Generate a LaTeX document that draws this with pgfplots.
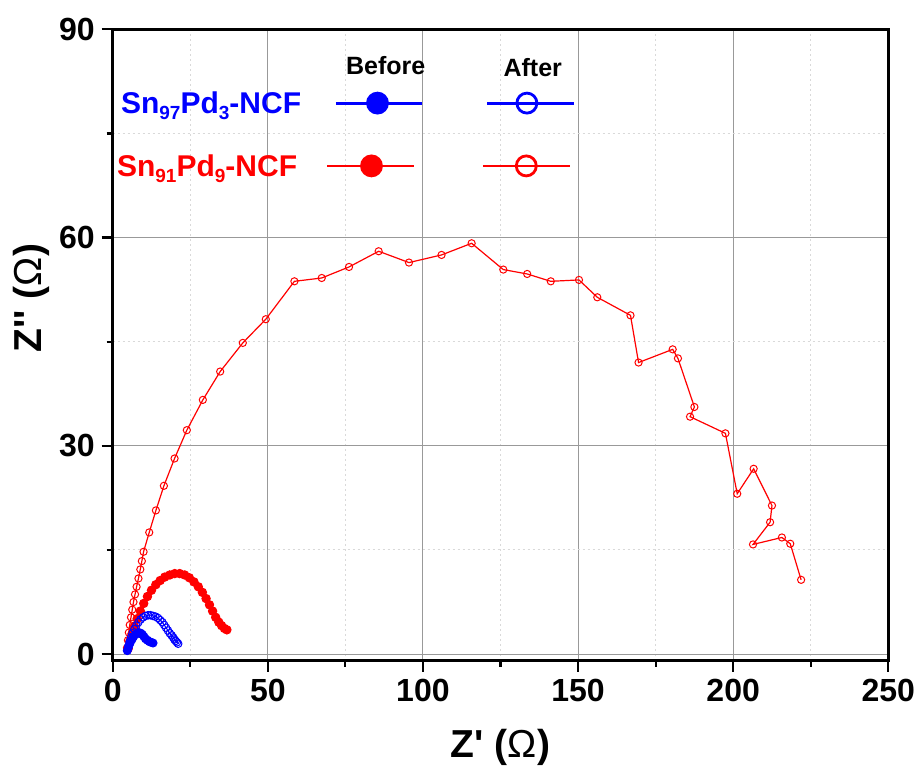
\documentclass[border=0pt]{standalone}
\usepackage{fontspec}
\setmainfont{Liberation Sans}
\usepackage{pgfplots}
\pgfplotsset{compat=1.18}
\newcommand{\sub}[1]{\raisebox{-0.35ex}{\fontsize{9.5}{10}\selectfont #1}}
\begin{document}
\begin{tikzpicture}
\path[use as bounding box] (-56.35pt,-53.15pt) rectangle (404.15pt,330.35pt);
\begin{axis}[
  at={(0pt,0pt)}, anchor=south west,
  scale only axis, width=387.8pt, height=315.7pt,
  xmin=0, xmax=250, ymin=-0.95, ymax=90,
  xtick={0,50,...,250}, ytick={0,30,60,90},
  minor x tick num=1, minor y tick num=1,
  tick align=outside, tick pos=left,
  major tick length=5.5pt, minor tick length=3pt,
  every tick/.style={black, line width=1.1pt},
  axis line style={line width=1.3pt},
  grid=both,
  major grid style={line width=0.5pt, draw=black!40},
  minor grid style={line width=0.5pt, draw=black!15, dash pattern=on 1pt off 1.5pt},
  ticklabel style={font=\fontsize{16}{19}\selectfont\bfseries},
  /pgf/number format/assume math mode=true,
  xlabel={Z\textquotesingle\ ({\fontseries{m}\selectfont Ω})},
  ylabel={Z\textquotesingle\textquotesingle\ ({\fontseries{m}\selectfont Ω})},
  xlabel style={at={(axis description cs:0.5,0)}, anchor=base, yshift=-48.5pt, font=\fontsize{19.5}{23}\selectfont\bfseries},
  ylabel style={at={(axis description cs:-0.1044,0.5744)}, anchor=center, font=\fontsize{19.5}{23}\selectfont\bfseries},
  legend columns=3,
  legend cell align=left,
  legend style={at={(axis description cs:0.00516,0.8334)}, anchor=west, draw=none, fill=none, inner sep=0pt,
    column sep=0pt, row sep=18.2pt,
    nodes={inner sep=0pt, text height=12pt, text depth=1.2pt, font=\fontsize{15}{18}\selectfont\bfseries}},
]
% Sn91Pd9-NCF after
\addplot[forget plot, red, line width=0.6pt, mark=o, mark size=1.8pt, mark options={fill=white, line width=0.5pt}] coordinates {
(4.6,0.9) (4.9,2.0) (5.2,3.1) (5.5,4.2) (5.9,5.3) (6.3,6.4) (6.7,7.5) (7.2,8.6) (7.7,9.7) (8.3,10.9) (8.9,12.2) (9.4,13.4)
(9.95,14.74) (11.78,17.53) (13.93,20.70) (16.5,24.24) (19.94,28.18) (23.9,32.26) (29.06,36.62) (34.64,40.7) (41.94,44.83)
(49.35,48.24) (58.57,53.7) (67.38,54.18) (76.18,55.77) (85.73,58.03) (95.5,56.4) (106.0,57.5) (115.7,59.18) (125.9,55.39)
(133.6,54.76) (141.2,53.7) (150.3,53.9) (156.2,51.4) (166.9,48.8) (169.5,42.0) (180.5,43.9) (182.2,42.6) (187.5,35.6)
(186.1,34.2) (197.5,31.8) (201.3,23.1) (206.6,26.7) (212.5,21.4) (211.9,19.0) (206.4,15.8) (215.7,16.8) (218.4,15.9) (221.9,10.7)
};
% Sn91Pd9-NCF before
\addplot[forget plot, red, line width=0.5pt, mark=*, mark size=2.1pt] coordinates {
(5.0,0.8) (5.5,1.8) (6.2,2.9) (7.0,4.0) (7.9,5.1) (8.9,6.2) (10.0,7.3) (11.2,8.3) (12.5,9.2) (13.9,10.0) (15.3,10.6)
(16.8,11.1) (18.4,11.4) (20.0,11.6) (21.6,11.6) (23.2,11.4) (24.7,11.0) (26.2,10.4) (27.6,9.7) (28.9,8.9) (30.1,8.0)
(31.2,7.1) (32.2,6.2) (33.2,5.3) (34.2,4.6) (35.1,4.1) (36.0,3.7) (36.8,3.5)
};
% Sn97Pd3-NCF after
\addplot[forget plot, blue, line width=0.5pt, mark=o, mark size=1.9pt, mark options={fill=white, line width=0.5pt}] coordinates {
(4.8,0.6) (5.1,1.2) (5.5,1.8) (5.9,2.4) (6.4,3.0) (7.0,3.6) (7.6,4.1) (8.3,4.6) (9.0,5.0) (9.8,5.3) (10.6,5.5) (11.4,5.6)
(12.2,5.6) (13.0,5.5) (13.8,5.4) (14.6,5.2) (15.3,4.9) (16.0,4.6) (16.6,4.2) (17.2,3.8) (17.8,3.4) (18.4,3.0) (19.0,2.7)
(19.5,2.4) (19.9,2.1) (20.3,1.9) (20.7,1.7) (21.1,1.5)
};
% Sn97Pd3-NCF before
\addplot[forget plot, blue, line width=0.5pt, mark=*, mark size=2pt] coordinates {
(4.7,0.5) (5.0,0.9) (5.3,1.3) (5.7,1.7) (6.2,2.1) (6.7,2.5) (7.3,2.8) (7.9,3.0) (8.5,3.1) (9.1,3.0) (9.6,2.8) (10.1,2.5)
(10.6,2.2) (11.2,2.0) (11.8,1.8) (12.4,1.7) (13.0,1.6)
};
% legend
\addlegendimage{legend image code/.code={}}
\addlegendentry{\makebox[86pt][l]{\color{blue}\hspace*{2pt}Sn\sub{97}Pd\sub{3}-NCF}}
\addlegendimage{blue, mark=*, legend image code/.code={
  \path (0pt,0pt) rectangle (0pt,0pt);
  \draw[line width=1.4pt, mark size=5pt, mark repeat=2, mark phase=2] plot coordinates {(23.15pt,0pt) (44.0pt,0pt) (66.5pt,0pt)};}}
\addlegendentry{}
\addlegendimage{blue, mark=o, mark options={fill=white}, legend image code/.code={
  \path (0pt,0pt) rectangle (0pt,0pt);
  \draw[line width=1.4pt, mark size=5pt, mark repeat=2, mark phase=2, every mark/.append style={line width=1.4pt}] plot coordinates {(30.5pt,0pt) (50.3pt,0pt) (73.65pt,0pt)};}}
\addlegendentry{}
\addlegendimage{legend image code/.code={}}
\addlegendentry{\makebox[86pt][l]{\color{red}Sn\sub{91}Pd\sub{9}-NCF}}
\addlegendimage{red, mark=*, legend image code/.code={
  \path (0pt,0pt) rectangle (0pt,0pt);
  \draw[line width=1.4pt, mark size=5pt, mark repeat=2, mark phase=2] plot coordinates {(19.0pt,0pt) (41.0pt,0pt) (62.3pt,0pt)};}}
\addlegendentry{}
\addlegendimage{red, mark=o, mark options={fill=white}, legend image code/.code={
  \path (0pt,0pt) rectangle (0pt,0pt);
  \draw[line width=1.4pt, mark size=5pt, mark repeat=2, mark phase=2, every mark/.append style={line width=1.4pt}] plot coordinates {(28.3pt,0pt) (50.0pt,0pt) (71.65pt,0pt)};}}
\addlegendentry{}
\node[anchor=base, font=\fontsize{12.5}{15}\selectfont\bfseries] at (axis cs:88.0,83.42) {Before};
\node[anchor=base, font=\fontsize{12.5}{15}\selectfont\bfseries] at (axis cs:135.4,83.17) {After};
\end{axis}
\end{tikzpicture}
\end{document}
